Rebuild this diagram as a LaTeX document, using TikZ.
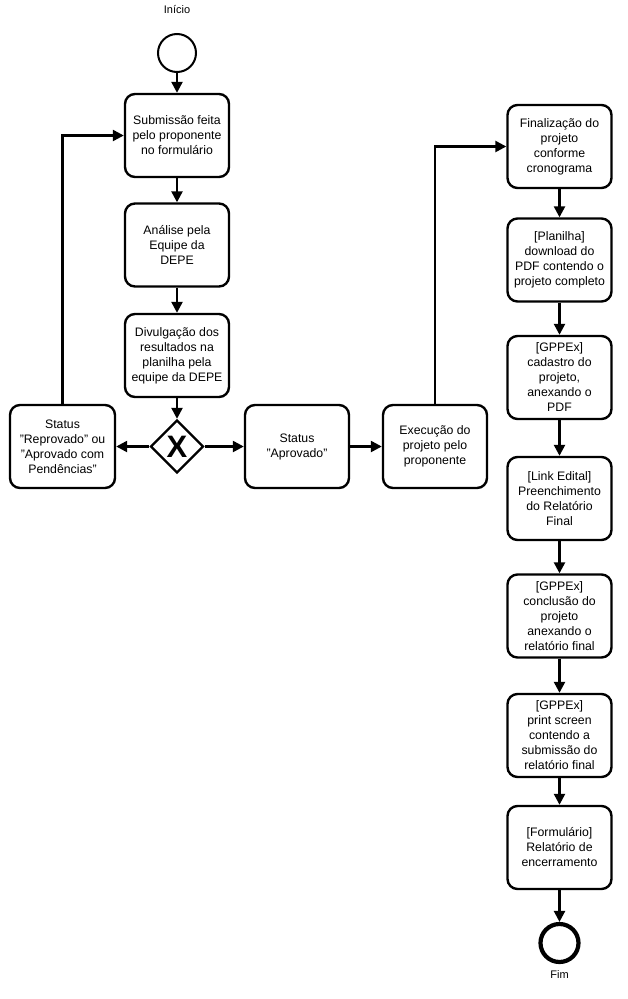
\documentclass[tikz,border=0pt]{standalone}
\usepackage{fontspec}
\setmainfont{Liberation Sans}
\usetikzlibrary{shapes.geometric,arrows.meta}
\begin{document}
\begin{tikzpicture}[x=1pt,y=1pt,
  task/.style={draw,line width=2.4pt,rounded corners=10pt,minimum width=104pt,minimum height=83pt,inner sep=0pt,align=center,font=\fontsize{12.3}{15}\selectfont},
  gate/.style={draw,diamond,line width=2.4pt,minimum width=53pt,minimum height=53pt,inner sep=0pt,aspect=1},
  startev/.style={draw,circle,line width=2pt,minimum size=38pt,inner sep=0pt},
  endev/.style={draw,circle,line width=4.2pt,minimum size=38pt,inner sep=0pt},
  lbl/.style={font=\fontsize{11}{13}\selectfont},
  flow/.style={line width=2.4pt,-{Triangle[length=11pt,width=11pt]}}]
\useasboundingbox (0,0) rectangle (628,-999);
\node[lbl] (tini) at (177,-10) {Início};
\node[startev] (start) at (177,-53) {};
\node[task] (sub) at (177,-135.5) {Submissão feita\\pelo proponente\\no formulário};
\node[task] (ana) at (177,-245) {Análise pela\\Equipe da\\DEPE};
\node[task] (div) at (177,-355.5) {Divulgação dos\\resultados na\\planilha pela\\equipe da DEPE};
\node[gate] (gw) at (177,-446.5) {};
\node[font=\fontsize{31}{31}\selectfont\bfseries] (gwx) at (177,-446.5) {X};
\node[task,minimum width=105pt] (rep) at (62.5,-446.5) {Status\\"Reprovado" ou\\"Aprovado com\\Pendências"};
\node[task] (apr) at (297,-446.5) {Status\\"Aprovado"};
\node[task] (exe) at (435,-446.5) {Execução do\\projeto pelo\\proponente};
\node[task] (fin) at (559.5,-146.5) {Finalização do\\projeto\\conforme\\cronograma};
\node[task] (pla) at (559.5,-260) {[Planilha]\\download do\\PDF contendo o\\projeto completo};
\node[task] (cad) at (559.5,-377.5) {[GPPEx]\\cadastro do\\projeto,\\anexando o\\PDF};
\node[task] (lin) at (559.5,-498.5) {[Link Edital]\\Preenchimento\\do Relatório\\Final};
\node[task] (con) at (559.5,-616) {[GPPEx]\\conclusão do\\projeto\\anexando o\\relatório final};
\node[task] (pri) at (559.5,-735.5) {[GPPEx]\\print screen\\contendo a\\submissão do\\relatório final};
\node[task] (frm) at (559.5,-847.5) {[Formulário]\\Relatório de\\encerramento};
\node[endev] (fim) at (559.5,-943) {};
\node[lbl] (tfim) at (559.5,-975) {Fim};
\draw[flow] (start) -- (sub);
\draw[flow] (sub) -- (ana);
\draw[flow] (ana) -- (div);
\draw[flow] (div) -- (gw);
\draw[flow] (gw) -- (rep);
\draw[flow] (gw) -- (apr);
\draw[flow] (rep.north) |- (sub.west);
\draw[flow] (apr) -- (exe);
\draw[flow] (exe.north) |- (fin.west);
\draw[flow] (fin) -- (pla);
\draw[flow] (pla) -- (cad);
\draw[flow] (cad) -- (lin);
\draw[flow] (lin) -- (con);
\draw[flow] (con) -- (pri);
\draw[flow] (pri) -- (frm);
\draw[flow] (frm) -- (fim);
\end{tikzpicture}
\end{document}
